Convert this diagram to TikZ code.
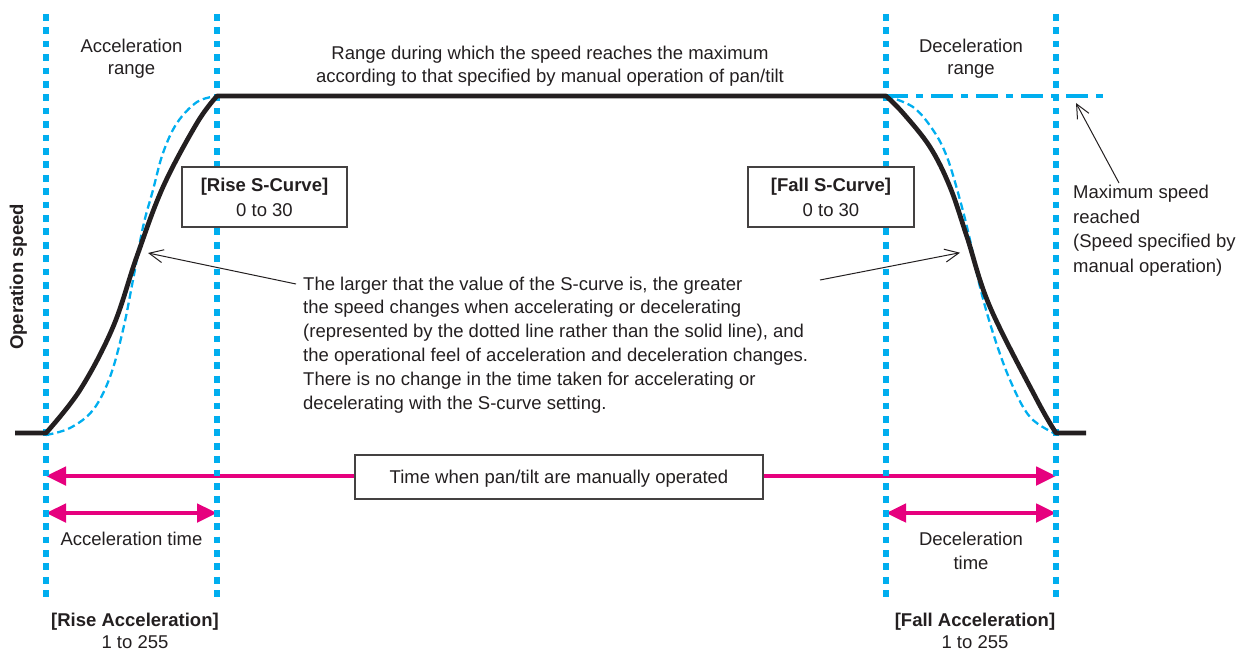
\documentclass[tikz,border=0pt]{standalone}
\usepackage{fontspec}
\setmainfont{Liberation Sans}
\usetikzlibrary{arrows.meta}
\definecolor{cy}{HTML}{00AEEF}
\definecolor{mg}{HTML}{E6007E}
\definecolor{ink}{HTML}{231F20}
\begin{document}
\begin{tikzpicture}[x=1pt,y=-1pt,
  font=\fontsize{18.5}{24}\selectfont, text=ink,
  vdot/.style={cy, line width=5.3pt, dash pattern=on 6.7pt off 6.7pt},
  sdash/.style={cy, line width=2.3pt, dash pattern=on 7.5pt off 4pt},
  speed/.style={ink, line width=4.7pt, line join=round},
  dashdot/.style={cy, line width=4.7pt, dash pattern=on 22pt off 8pt on 7pt off 8pt},
  magarrow/.style={mg, line width=4.7pt, {Triangle[length=20pt,width=18pt]}-{Triangle[length=20pt,width=18pt]}},
  pointer/.style={ink, line width=1pt, -{Straight Barb[length=14pt,width=13pt]}},
  box/.style={draw=ink!85, line width=1.2pt, fill=white, inner sep=0pt, align=center},
  lbl/.style={align=center, inner sep=0pt}]
\useasboundingbox (0,0) rectangle (1238,650);
% coordinates of guide lines
\coordinate (v1t) at (46,14);  \coordinate (v1b) at (46,597);
\coordinate (v2t) at (217,14); \coordinate (v2b) at (217,597);
\coordinate (v3t) at (886,14); \coordinate (v3b) at (886,597);
\coordinate (v4t) at (1056,14);\coordinate (v4b) at (1056,597);
% magenta arrows
\coordinate (tl) at (46,476);  \coordinate (tr) at (1056,476);
\coordinate (al) at (46,513);  \coordinate (ar) at (217,513);
\coordinate (dl) at (886,513); \coordinate (dr) at (1056,513);
\draw[magarrow] (tl) -- (tr);
\draw[magarrow] (al) -- (ar);
\draw[magarrow] (dl) -- (dr);
\node[box, minimum width=408, minimum height=44, text height=13.3pt, text depth=0pt] (tw) at (559,477) {Time when pan/tilt are manually operated};
% dotted guide lines
\draw[vdot] (v1t) -- (v1b);
\draw[vdot] (v2t) -- (v2b);
\draw[vdot] (v3t) -- (v3b);
\draw[vdot] (v4t) -- (v4b);
% S-curves (dashed)
\draw[sdash] plot[smooth, tension=0.6] coordinates {(46,435) (70,428) (93,410) (110,377) (123,330) (133,280) (143,227) (153,190) (163,153) (177,123) (197,102) (217,96)};
\draw[sdash] plot[smooth, tension=0.6] coordinates {(886,96) (913,107) (933,130) (947,157) (960,200) (970,240) (980,287) (993,333) (1010,380) (1030,417) (1056,434)};
% max speed dash-dot
\coordinate (ddend) at (1105,96);
\draw[dashdot] (886,96) -- (ddend);
% speed profile
\draw[speed] (15,433) -- plot[smooth, tension=0.6] coordinates {(46,433) (80,390) (113,327) (137,256) (163,187) (197,123) (217,96)} -- (886,96) -- plot[smooth, tension=0.6] coordinates {(886,96) (903,113) (930,147) (950,187) (967,237) (990,307) (1037,400) (1056,433)} -- (1086,433);
% boxes
\node[box, minimum width=165, minimum height=60, font=\fontsize{18.5}{25}\selectfont] (rsc) at (264.5,197) {\textbf{[Rise S-Curve]}\\0 to 30};
\node[box, minimum width=166, minimum height=60, font=\fontsize{18.5}{25}\selectfont] (fsc) at (831,197) {\textbf{[Fall S-Curve]}\\0 to 30};
% labels (base anchor = baseline of the last line)
\node[lbl, anchor=base, font=\fontsize{18.5}{22}\selectfont] (accr) at (131.5,74.5) {Acceleration\\range};
\node[lbl, anchor=base, font=\fontsize{18.5}{22}\selectfont] (decr) at (971,74.5) {Deceleration\\range};
\node[lbl, anchor=base, font=\fontsize{18.5}{23}\selectfont] (rng) at (550,82.5) {Range during which the speed reaches the maximum\\according to that specified by manual operation of pan/tilt};
\node[lbl, align=left, anchor=base west, font=\fontsize{18.5}{23.8}\selectfont] (expl) at (303,409) {The larger that the value of the S-curve is, the greater\\the speed changes when accelerating or decelerating\\(represented by the dotted line rather than the solid line), and\\the operational feel of acceleration and deceleration changes.\\There is no change in the time taken for accelerating or\\decelerating with the S-curve setting.};
\node[lbl, align=left, anchor=base west, font=\fontsize{18.5}{24.5}\selectfont] (maxs) at (1073,272) {Maximum speed\\reached\\(Speed specified by\\manual operation)};
\node[lbl, anchor=base west, rotate=90, font=\bfseries\fontsize{18.5}{22}\selectfont] (ops) at (23,350) {Operation speed};
\node[lbl, anchor=base] (acct) at (131.5,545.7) {Acceleration time};
\node[lbl, anchor=base, font=\fontsize{18.5}{23.6}\selectfont] (dect) at (971,569.3) {Deceleration\\time};
\node[lbl, anchor=base, font=\fontsize{18.5}{22}\selectfont] (racc) at (135,648.5) {\textbf{[Rise Acceleration]}\\1 to 255};
\node[lbl, anchor=base, font=\fontsize{18.5}{22}\selectfont] (facc) at (975,648.5) {\textbf{[Fall Acceleration]}\\1 to 255};
% pointers
\coordinate (p1s) at (296,284); \coordinate (p1e) at (148,253);
\coordinate (p2s) at (820,280); \coordinate (p2e) at (960,252.7);
\coordinate (p3s) at (1119,183); \coordinate (p3e) at (1076,103);
\draw[pointer] (p1s) -- (p1e);
\draw[pointer] (p2s) -- (p2e);
\draw[pointer] (p3s) -- (p3e);
\end{tikzpicture}
\end{document}
